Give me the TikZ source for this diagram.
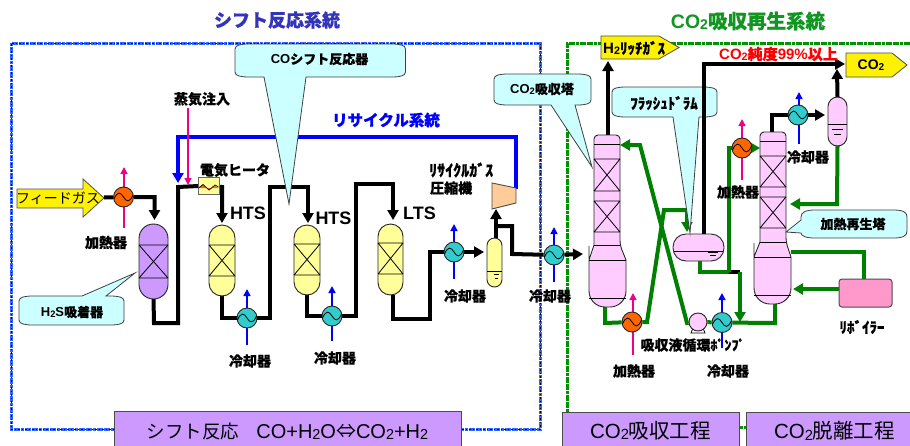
\documentclass[tikz,border=0pt]{standalone}
\usepackage{fontspec}
\usepackage{graphicx}
\setmainfont{Liberation Sans}
\newfontfamily\jp{Noto Sans CJK JP}[BoldFeatures={FakeBold=0.5}]
\usetikzlibrary{arrows.meta,calc}
\pgfdeclarelayer{frames}
\pgfdeclarelayer{conn}
\pgfsetlayers{frames,conn,main}
\definecolor{vio}{RGB}{204,153,255}
\definecolor{yel}{RGB}{255,255,153}
\definecolor{pnk}{RGB}{255,204,255}
\definecolor{rose}{RGB}{255,153,204}
\definecolor{cya}{RGB}{204,255,255}
\definecolor{teal2}{RGB}{51,204,204}
\definecolor{org}{RGB}{255,102,0}
\definecolor{peach}{RGB}{255,204,153}
\definecolor{grn}{RGB}{0,128,0}
\definecolor{frameblue}{RGB}{51,102,255}
\definecolor{titleblue}{RGB}{51,51,187}
\definecolor{titlegreen}{RGB}{17,150,34}
\newcommand\tw{\raisebox{-0.06em}{\scalebox{0.72}{2}}}
\newcommand\fsz[1]{\fontsize{#1}{#1}\selectfont}
\tikzset{
 x=1pt,y=-1pt,
 outl/.style={draw=black!85!white,line width=0.9pt},
 pipe/.style={draw=black,line width=4pt,line join=miter},
 gpipe/.style={draw=grn,line width=4pt,line join=miter},
 bpipe/.style={draw=blue,line width=4pt,line join=miter},
 tipped/.style={-{Triangle[width=11pt,length=10pt]}},
 thinup/.style={line width=1.5pt,-{Triangle[width=7pt,length=7pt]}},
 lab/.style={inner sep=0pt,font=\bfseries\fsz{14}},
 hxn/.style={circle,outl,minimum size=20pt,inner sep=0pt},
 bubble/.style={draw=black!75!white,line width=0.8pt,fill=cya},
 bar/.style={draw=black!70!white,line width=1pt,fill=vio},
 barlab/.style={inner sep=0pt,font=\fsz{20.5}},
 tag/.style={draw=black!70!white,line width=0.8pt,fill=yellow},
}
% heat exchanger: name, x, y, fill
\newcommand\hx[4]{%
 \node[hxn,fill=#4] (#1) at (#2,#3) {};
 \begin{scope}[shift={(#2,#3)}]
  \draw[black,line width=0.8pt] (-9.5,2) .. controls (-6,-6) and (-3,-5) .. (0,0) .. controls (3,5) and (6,6) .. (9.5,-2);
 \end{scope}}
% vessel: name, x1,y1,x2,y2, fill, radius
\newcommand\vessel[7]{%
 \pgfmathsetmacro\vw{#4-#2}\pgfmathsetmacro\vh{#5-#3}%
 \node[outl,fill=#6,rounded corners=#7,minimum width=\vw pt,minimum height=\vh pt,inner sep=0pt,outer sep=0pt] (#1) at ({(#2+#4)/2},{(#3+#5)/2}) {};}
% packed bed: x1,x2,y1,y2
\newcommand\bed[4]{%
 \draw[black,line width=0.8pt] (#1,#3)--(#2,#3) (#1,#4)--(#2,#4) (#1,#3)--(#2,#4) (#2,#3)--(#1,#4);}
% bubble with a pointer below: x1,y1,x2,y2,bx1,bx2,tipx,tipy
\newcommand\callout[8]{%
 \pgfmathsetmacro\cl{#1+14}\pgfmathsetmacro\cr{#3-14}%
 \pgfmathsetmacro\ya{#2+5}\pgfmathsetmacro\yb{#4-5}%
 \draw[bubble] (#1,\ya) .. controls (#1,{#2+1}) and ({#1+6},#2) .. (\cl,#2) -- (\cr,#2) .. controls ({#3-6},#2) and (#3,{#2+1}) .. (#3,\ya) -- (#3,\yb) .. controls (#3,{#4-1}) and ({#3-6},#4) .. (\cr,#4) -- (#6,#4) -- (#7,#8) -- (#5,#4) -- (\cl,#4) .. controls ({#1+6},#4) and (#1,{#4-1}) .. (#1,\yb) -- cycle;}
\begin{document}
\begin{tikzpicture}
\useasboundingbox (0,0) rectangle (910,445);

% --- equipment of the shift section ---
\node[lab,font=\bfseries\fsz{18},text=titleblue] (title1) at (277,20) {\jp シフト反応系統};
\node[lab,font=\bfseries\fsz{19.5},text=titlegreen] (title2) at (748,21) {CO\tw{\jp 吸収再生系統}};

% feed arrow
\draw[tag] (17,189) -- (83,189) -- (83,179) -- (104,198) -- (83,217) -- (83,208) -- (17,208) -- cycle;
\node[inner sep=0pt,font=\fsz{14}] (feed) at (58,198.5) {\jp フィードガス};
\coordinate (feedtip) at (104,197.5);

\hx{h1}{123.5}{197}{org}
\coordinate (pinkA) at (124,228);

% adsorber
\vessel{ads}{139}{224}{168}{299}{vio}{14.5}
\bed{139}{168}{245}{278}

% reactors
\vessel{r1}{209}{225}{235}{296}{yel}{13}
\bed{209}{235}{245}{276}
\vessel{r2}{294}{225}{320}{295}{yel}{13}
\bed{294}{320}{244}{275}
\vessel{r3}{378}{224}{403}{295}{yel}{12.5}
\bed{378}{403}{243}{274}

\node[lab,font=\bfseries\fsz{18}] (hts1) at (248,213) {HTS};
\node[lab,font=\bfseries\fsz{18}] (hts2) at (333.5,218) {HTS};
\node[lab,font=\bfseries\fsz{18}] (lts) at (419.5,213) {LTS};

% coolers
\hx{c1}{247}{318}{teal2}
\hx{c2}{332}{316}{teal2}
\hx{c3}{454}{252}{teal2}
\hx{c4}{554}{255}{teal2}

% separator
\vessel{sep}{487}{238}{502}{287}{yel}{7.5}
\draw[black,line width=0.8pt] (487,271)--(502,271) (493.5,274.5)--(499,274.5) (494.5,278.5)--(498,278.5);

% compressor
\draw[draw=black!70!white,line width=0.9pt,fill=peach] (492,183) -- (516,188) -- (516,203) -- (492,209) -- cycle;
\coordinate (compin) at (496,209);
\coordinate (compout) at (516,189);
\coordinate (compmid) at (496,226);

% electric heater
\node[draw=black!60!white,line width=0.8pt,fill=yel,minimum width=21pt,minimum height=17pt,inner sep=0pt] (eh) at (208.5,185.5) {};
\fill[org] (198.5,188) -- (203,184.5) -- (209,190) -- (215,186) -- (218.5,188) -- cycle;
\draw[black,line width=0.7pt] (198.5,188) -- (203,184.5) -- (209,190) -- (215,185) -- (218.5,187);

% --- connectors of the shift section ---
\begin{pgfonlayer}{conn}
 \draw[pipe,tipped] (feedtip) -- (h1) -| (154.5,220);
 \draw[pipe] (ads.south) -- (154,323) -- (178,323) -- (178,187) -- (eh.center);
 \draw[pipe,tipped] (eh.center) -- (222,187) -- (222,223);
 \draw[pipe] (222,296) -- (222,318) -- (c1);
 \draw[pipe,tipped] (c1) -- (270,318) -- (270,187) -- (308,187) -- (308,223);
 \draw[pipe] (307,295) -- (307,316) -- (c2);
 \draw[pipe,tipped] (c2) -- (356,316) -- (356,184) -- (393,184) -- (393,220);
 \draw[pipe] (393,295) -- (393,319) -- (430,319) -- (430,252) -- (c3);
 \draw[pipe,tipped] (c3) -- (484,252);
 \draw[pipe,tipped] (sep.north -| compin) -- (compin);
 \draw[pipe] (compmid) -- (512,226) -- (512,254) -- (c4);
 \draw[pipe,tipped] (c4) -- (583,254);
 \draw[bpipe,-{Triangle[width=11pt,length=10pt]}] (compout) -- (516,137) -- (178,137) -- (178,183);
 \draw[magenta,thinup] (188,108) -- (188,185);
 \draw[magenta,thinup] (pinkA) -- (124,167);
 \draw[blue,thinup] (247,345) -- (247,289);
 \draw[blue,thinup] (332,341) -- (332,286);
 \draw[blue,thinup] (454,279) -- (454,224);
 \draw[blue,thinup] (554,282) -- (554,227);
\end{pgfonlayer}

% --- labels of the shift section ---
\node[lab] (l1) at (106,242.5) {\jp 加熱器};
\node[lab] (l2) at (202,99) {\jp 蒸気注入};
\node[lab] (l3) at (235,170) {\jp 電気ヒータ};
\node[lab] (l4) at (250,361) {\jp 冷却器};
\node[lab] (l5) at (335,358) {\jp 冷却器};
\node[lab] (l6) at (465,296) {\jp 冷却器};
\node[lab] (l7) at (550,296) {\jp 冷却器};
\node[lab,anchor=west,font=\bfseries\fsz{16}] (l8) at (429,170) {\jp ﾘｻｲｸﾙｶﾞｽ};
\node[lab,anchor=west] (l9) at (430,188) {\jp 圧縮機};
\node[lab,font=\bfseries\fsz{15.5},text=blue] (l10) at (386,120) {\jp リサイクル系統};

% --- CO2 section equipment ---
% absorber
\draw[outl,fill=pnk,rounded corners=4pt] (594,245) -- (594,135) -- (620,135) -- (620,245) [sharp corners] -- (626,260) [rounded corners=16pt] -- (626,307) -- (589,307) -- (589,262) [sharp corners] -- (589,260) -- cycle;
\draw[black,line width=0.8pt] (594,144)--(620,144) (594,245)--(620,245) (589,260)--(626,260) (589,298)--(626,298);
\bed{594}{620}{159}{191}
\bed{594}{620}{201}{232}
\coordinate (abstop) at (608,135);
\coordinate (absbot) at (605,307);
\coordinate (absin) at (620,145);

% regenerator
\draw[outl,fill=pnk,rounded corners=4pt] (760,242) -- (760,132) -- (786,132) -- (786,242) [sharp corners] -- (791,257) [rounded corners=16pt] -- (791,304) -- (754,304) -- (754,259) [sharp corners] -- (754,257) -- cycle;
\draw[black,line width=0.8pt] (760,141)--(786,141) (760,242)--(786,242) (754,257)--(791,257) (754,295)--(791,295);
\bed{760}{786}{156}{187}
\bed{760}{786}{197}{228}
\coordinate (regtop) at (772,132);
\coordinate (regbot) at (775,304);
\coordinate (regin) at (760,148);
\coordinate (regside) at (790,204);
\coordinate (regside2) at (791,252);
\coordinate (regside3) at (793,289);

% flash drum
\vessel{fd}{673}{234}{724}{261}{pnk}{13}
\draw[black,line width=0.8pt] (674,251)--(723,251) (708,252.5)--(718,252.5) (710,255.5)--(716,255.5);

% condenser drum
\vessel{cd}{828}{97}{847}{146}{pnk}{9.5}
\draw[black,line width=0.8pt] (828,124)--(847,124) (832,129.5)--(843,129.5) (834,134)--(841,134);

% reboiler
\node[draw=black!70!white,line width=1pt,fill=rose,rounded corners=3pt,minimum width=53pt,minimum height=28pt,inner sep=0pt] (reb) at (865.5,293) {};

% pump
\draw[black,line width=0.8pt,fill=white] (693,328) -- (691,333) -- (705,333) -- (703,328);
\node[circle,outl,fill=pnk,minimum size=18pt,inner sep=0pt] (pump) at (698,322) {};

% exchangers
\hx{h2}{742}{148}{org}
\hx{h3}{632}{322}{org}
\hx{c5}{798}{115}{teal2}
\hx{c6}{722}{322.5}{teal2}

% tags
\draw[tag] (601,36) -- (659,36) -- (679,47.5) -- (659,59) -- (601,59) -- cycle;
\node[lab,font=\bfseries\fsz{15},anchor=west] (tagh) at (603,48) {H\tw{\jp ﾘｯﾁｶﾞｽ}};
\coordinate (tagin) at (608,61);
\draw[tag] (846,53) -- (892,53) -- (907,65) -- (892,77) -- (846,77) -- cycle;
\node[lab,font=\bfseries\fsz{14}] (tagc) at (871,65) {CO\tw};
\coordinate (tagcin) at (845,64);

% --- connectors of the CO2 section ---
\begin{pgfonlayer}{conn}
 \draw[pipe,tipped] (abstop) -- (tagin);
 \draw[gpipe] (absbot) -- (605,323) -- (h3);
 \draw[gpipe,tipped] (h3) -- (647,322) -- (664,210) -- (687,210) -- (687,232);
 \draw[gpipe,tipped] (pump) -- (687,323) -- (640,145) -- (absin);
 \draw[pipe,tipped] (cd.north) -- (837,69);
 \draw[gpipe] (700,261) -- (700,272) -- (729,272);
 \draw[pipe] (729,272) -- (740,272);
 \draw[gpipe,tipped] (740,272) -- (740,322);
 \draw[gpipe] (729,272) -- (729,148) -- (h2);
 \draw[gpipe,tipped] (h2) -- (regin);
 \draw[pipe] (regtop) -- (772,115) -- (c5);
 \draw[pipe,tipped] (c5) -- (825,115);
 \draw[gpipe,tipped] (cd.south) -- (837,204) -- (regside);
 \draw[gpipe] (regbot) -- (775,323) -- (c6);
 \draw[gpipe] (c6) -- (pump);
 \draw[gpipe] (864,279) -- (864,252) -- (regside2);
 \draw[gpipe,tipped] (reb.west |- 0,289) -- (regside3);
 \draw[magenta,thinup] (742,180) -- (742,119);
 \draw[magenta,thinup] (633,355) -- (633,293);
 \draw[blue,thinup] (799,144) -- (799,92);
 \draw[blue,thinup] (722,348) -- (722,293);
\end{pgfonlayer}

% --- bubbles, drawn over the pipes ---
\callout{235}{44}{405.5}{77}{264}{306}{289}{204}
\node[lab,font=\bfseries\fsz{13}] (b1) at (319.5,59) {CO{\jp シフト反応器}};
\draw[bubble] (19,301) .. controls (19,297) and (25,296) .. (33,296) -- (82,296) -- (135,273) -- (106,296) -- (110,296) .. controls (118,296) and (124,297) .. (124,301) -- (124,320) .. controls (124,324) and (118,325) .. (110,325) -- (33,325) .. controls (25,325) and (19,324) .. (19,320) -- cycle;
\node[lab,font=\bfseries\fsz{13}] (b2) at (72,312) {H\tw S{\jp 吸着器}};
\callout{494}{74}{591}{105}{551}{575}{592}{167}
\node[lab,font=\bfseries\fsz{13}] (b3) at (542,89) {CO\tw{\jp 吸収塔}};
\callout{612}{87}{717}{117}{673}{699}{690}{233}
\node[lab,font=\bfseries\fsz{15}] (b4) at (664,103) {\jp ﾌﾗｯｼｭﾄﾞﾗﾑ};
\draw[bubble] (801,217) .. controls (801,212) and (806,210) .. (815,210) -- (893,210) .. controls (903,210) and (907,212) .. (907,217) -- (907,231) .. controls (907,236) and (903,238) .. (893,238) -- (815,238) .. controls (806,238) and (801,236) .. (801,233) -- (786,232) -- (801,220) -- cycle;
\node[lab,font=\bfseries\fsz{13}] (b5) at (853,224) {\jp 加熱再生塔};

% flash-drum vapour line runs over its bubble
\draw[pipe,tipped] (704,234) -- (704,64) -- (tagcin);

% --- labels of the CO2 section ---
\node[lab,font=\bfseries\fsz{15},text=red] (r) at (778.5,54) {CO\tw{\jp 純度}99\%{\jp 以上}};
\node[lab] (l11) at (738,192) {\jp 加熱器};
\node[lab] (l12) at (808,157) {\jp 冷却器};
\node[lab] (l13) at (634,371) {\jp 加熱器};
\node[lab] (l14) at (728,371) {\jp 冷却器};
\node[lab] (l15) at (693,345) {\jp 吸収液循環ﾎﾟﾝﾌﾟ};
\node[lab,font=\bfseries\fsz{15}] (l16) at (862,327) {\jp ﾘﾎﾞｲﾗｰ};

% --- frames ---
\begin{pgfonlayer}{frames}
 \fill[white] (0,0) rectangle (910,445);
 \draw[frameblue,line width=3pt,dash pattern=on 3pt off 0.6pt] (114,429) -- (11,429) -- (11,43) -- (540,43) -- (540,429) -- (462,429);
 \draw[black,line width=0.6pt,dash pattern=on 1.5pt off 2pt] (114,429) -- (11,429) -- (11,43) -- (540,43) -- (540,429) -- (462,429);
 \draw[grn!85!green,line width=3pt,dash pattern=on 3pt off 0.6pt] (567,412) -- (567,43) -- (910,43);
 \draw[grn!85!green,line width=3pt,dash pattern=on 3pt off 0.6pt] (740,427) -- (746,427);
\end{pgfonlayer}

% --- process bars ---
\draw[bar] (114,411) rectangle (461,447);
\node[barlab,font=\fsz{20}] (p1) at (287.5,431) {{\jp\fsz{18.5}シフト反応}\hspace{17pt}CO+H\tw O{\jp ⇔}CO\tw +H\tw};
\draw[bar] (562.5,412) rectangle (739.5,447);
\node[barlab] (p2) at (650.5,431) {CO\tw{\jp 吸収工程}};
\draw[bar] (746,412) rectangle (912,447);
\node[barlab] (p3) at (834.5,431) {CO\tw{\jp 脱離工程}};
\end{tikzpicture}
\end{document}
